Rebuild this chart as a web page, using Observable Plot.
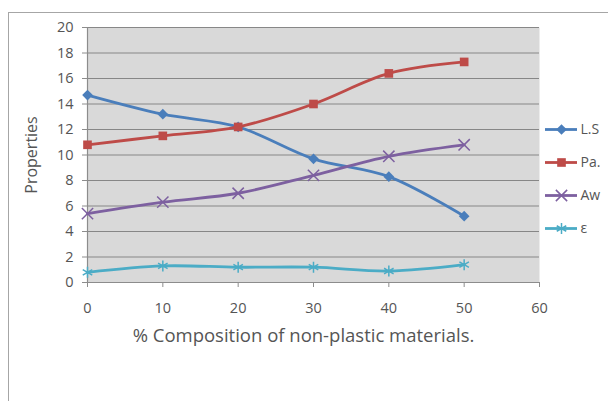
<!DOCTYPE html>
<html>
<head>
<meta charset="utf-8">
<script src="https://cdn.jsdelivr.net/npm/d3@7"></script>
<script src="https://cdn.jsdelivr.net/npm/@observablehq/plot@0.6"></script>
<style>
  html, body { margin: 0; padding: 0; background: #fff; }
  #wrap { position: relative; width: 608px; height: 401px; overflow: hidden; font-family: "Open Sans", sans-serif; }
  #frame { position: absolute; left: 8px; top: 12px; width: 640px; height: 420px; border: 1px solid #a6a6a6; box-sizing: border-box; }
  #chart { position: absolute; left: 0; top: 0; }
  #legend { position: absolute; left: 545px; top: 118px; }
</style>
</head>
<body>
<div id="wrap">
  <div id="frame"></div>
  <div id="chart"></div>
  <div id="legend"></div>
</div>
<script>
const xs = [0, 10, 20, 30, 40, 50];
const seriesNames = ["L.S", "Pa.", "Aw", "ε"];
const lsValues = [14.7, 13.2, 12.2, 9.7, 8.3, 5.2];
const paValues = [10.8, 11.5, 12.2, 14.0, 16.4, 17.3];
const awValues = [5.4, 6.3, 7.0, 8.4, 9.9, 10.8];
const epsValues = [0.8, 1.3, 1.2, 1.2, 0.9, 1.4];
const xTicks = [0, 10, 20, 30, 40, 50, 60];
const yTicks = [0, 2, 4, 6, 8, 10, 12, 14, 16, 18, 20];
const xTitle = "% Composition of non-plastic materials.";
const yTitle = "Properties";

const colors = ["#4a7ebb", "#be4b48", "#7d60a0", "#4bacc6"];
const symbols = ["diamond2", "square2", "times", "asterisk"];
const filled = [true, true, false, false];
const radii = [4.8, 5.5, 5.2, 5.2];
const valueLists = [lsValues, paValues, awValues, epsValues];

const rows = [];
seriesNames.forEach((s, i) => xs.forEach((x, j) => rows.push({series: s, x, y: valueLists[i][j]})));

const marks = [
  Plot.frame({fill: "#d9d9d9", stroke: null}),
  Plot.gridY(yTicks, {stroke: "#878787", strokeOpacity: 1, strokeWidth: 1.2}),
  Plot.ruleX([0], {stroke: "#8c8c8c", strokeWidth: 1.2}),
  Plot.ruleY([0], {stroke: "#8c8c8c", strokeWidth: 1.2}),
  Plot.axisY(yTicks, {tickSize: 5, tickPadding: 9, stroke: "#8c8c8c", fill: "#555", fontSize: 14.5, label: null}),
  Plot.axisY({label: yTitle, labelAnchor: "center", labelOffset: 62, labelArrow: "none",
    ticks: [], tickSize: 0, fill: "#555", fontSize: 16}),
  Plot.axisX(xTicks, {tickSize: 5, tickPadding: 15, stroke: "#8c8c8c", fill: "#555", fontSize: 14.5, label: null}),
  Plot.text([xTitle], {frameAnchor: "bottom", text: d => d, dy: 59, dx: -10, fill: "#555", fontSize: 18.5})
];
seriesNames.forEach((s, i) => {
  const d = rows.filter(r => r.series === s);
  marks.push(Plot.line(d, {x: "x", y: "y", stroke: colors[i], strokeWidth: 2.8, curve: "catmull-rom"}));
  marks.push(Plot.dot(d, {x: "x", y: "y", symbol: () => symbols[i], r: radii[i],
    fill: filled[i] ? colors[i] : "none", stroke: colors[i], strokeWidth: filled[i] ? 0 : 1.5}));
});

const chart = Plot.plot({
  width: 608, height: 401,
  marginLeft: 87, marginRight: 69, marginTop: 27, marginBottom: 119,
  style: {fontFamily: "Open Sans, sans-serif", fontSize: "13px", color: "#444", background: "transparent", overflow: "visible"},
  x: {domain: [0, 60]},
  y: {domain: [0, 20]},
  symbol: {domain: symbols, range: symbols},
  marks
});
document.getElementById("chart").appendChild(chart);

const legendMarks = [];
seriesNames.forEach((s, i) => {
  legendMarks.push(Plot.ruleY([s], {x1: 0, x2: 1, stroke: colors[i], strokeWidth: 2.8}));
  legendMarks.push(Plot.dot([s], {x: 0.5, y: d => d, symbol: () => symbols[i], r: radii[i],
    fill: filled[i] ? colors[i] : "none", stroke: colors[i], strokeWidth: filled[i] ? 0 : 1.5}));
  legendMarks.push(Plot.text([s], {x: 1, y: d => d, text: d => d, textAnchor: "start", dx: 3, fill: "#555", fontSize: 14}));
});
const legend = Plot.plot({
  width: 63, height: 121,
  marginLeft: 0, marginRight: 31, marginTop: 10, marginBottom: 10,
  style: {fontFamily: "Open Sans, sans-serif", fontSize: "13px", background: "transparent", overflow: "visible"},
  x: {domain: [0, 1], axis: null},
  y: {type: "point", domain: seriesNames, padding: 0, axis: null},
  symbol: {domain: symbols, range: symbols},
  marks: legendMarks
});
document.getElementById("legend").appendChild(legend);
</script>
</body>
</html>
